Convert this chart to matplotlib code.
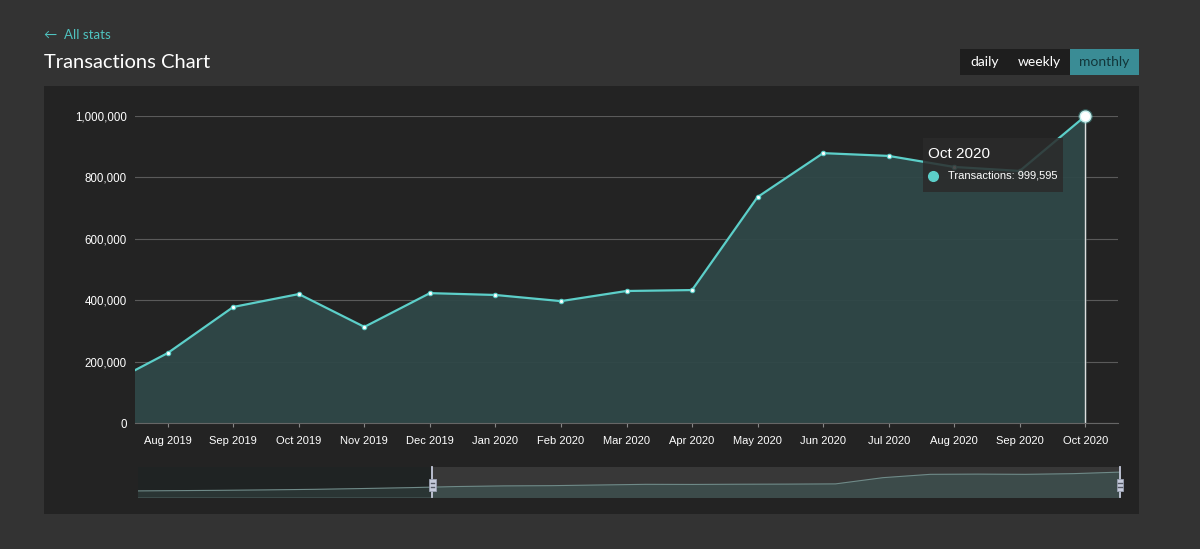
import matplotlib
matplotlib.use("Agg")
import matplotlib.pyplot as plt
from matplotlib.patches import Rectangle
from matplotlib.ticker import FuncFormatter

# monthly transactions, Jul 2019 .. Oct 2020
months = ["Jul 2019", "Aug 2019", "Sep 2019", "Oct 2019", "Nov 2019", "Dec 2019",
          "Jan 2020", "Feb 2020", "Mar 2020", "Apr 2020", "May 2020", "Jun 2020",
          "Jul 2020", "Aug 2020", "Sep 2020", "Oct 2020"]
transactions = [116000, 228000, 378000, 420000, 313000, 423000,
                417000, 397000, 430000, 433000, 736000, 879000,
                870000, 834000, 821000, 999595]

# navigator overview, Dec 2018 .. Oct 2020
nav_values = [90000, 100000, 115000, 130000, 150000, 175000, 210000,
              250000, 300000, 330000, 340000, 370000, 400000, 395000,
              405000, 410000, 420000, 700000, 850000, 860000, 850000, 880000, 950000]
nav_offset = -8  # first navigator month index relative to Aug 2019

W, H = 1200, 549
page_bg = "#333333"
panel_bg = "#232323"
teal = "#5ccfc9"
fill_col = "#2f4747"

fig = plt.figure(figsize=(W / 100, H / 100), dpi=100, facecolor=page_bg)


def px_axes(x0, y0, x1, y1, **kw):
    return fig.add_axes([x0 / W, 1 - y1 / H, (x1 - x0) / W, (y1 - y0) / H], **kw)


# panel background
fig.patches.append(Rectangle((44 / W, 1 - 514 / H), (1139 - 44) / W, (514 - 86) / H,
                             transform=fig.transFigure, facecolor=panel_bg, zorder=-2))

# header
fig.text(44 / W, 1 - 35 / H, "\u2190  All stats", color="#4fc3c0", fontsize=9.5,
         family=["Lato", "DejaVu Sans"], va="center")
fig.text(44 / W, 1 - 63 / H, "Transactions Chart", color="white", fontsize=14.5,
         family="Lato", va="center")

# period buttons
buttons = [("daily", 960, 1009, "#1e1e1e", "white"),
           ("weekly", 1009, 1070, "#1e1e1e", "white"),
           ("monthly", 1070, 1139, "#3a8c95", "#12363a")]
for label, bx0, bx1, bg, fg in buttons:
    fig.patches.append(Rectangle((bx0 / W, 1 - 75 / H), (bx1 - bx0) / W, 26 / H,
                                 transform=fig.transFigure, facecolor=bg, zorder=-1))
    fig.text((bx0 + bx1) / 2 / W, 1 - 62 / H, label, color=fg, fontsize=10,
             family="Lato", ha="center", va="center")

# main chart
ax = px_axes(135, 116, 1118, 423)
ax.set_facecolor("none")
x = list(range(-1, len(months) - 1))  # Aug 2019 = 0
ax.fill_between(x, transactions, color=fill_col, alpha=0.95, zorder=1)
ax.plot(x, transactions, color=teal, lw=1.6, zorder=3)
ax.scatter(x[:-1], transactions[:-1], s=10, color="white", edgecolor=teal,
           linewidth=0.8, zorder=4)
ax.set_xlim(-0.5, 14.5)
ax.set_ylim(0, 1000000)
ax.set_yticks([0, 200000, 400000, 600000, 800000, 1000000])
ax.yaxis.set_major_formatter(FuncFormatter(lambda v, p: f"{int(v):,}"))
ax.set_xticks(x[1:])
ax.set_xticklabels(months[1:])
ax.grid(axis="y", color="#5a5a5a", lw=0.8, zorder=0)
ax.set_axisbelow(True)
for s in ["top", "right", "left"]:
    ax.spines[s].set_visible(False)
ax.spines["bottom"].set_color("#666666")
ax.tick_params(axis="y", length=0, pad=6, labelcolor="white", labelsize=8.3)
ax.tick_params(axis="x", length=3, color="#888888", pad=6, labelcolor="white", labelsize=8)
for t in ax.get_xticklabels() + ax.get_yticklabels():
    t.set_family("Liberation Sans")

# hover line + marker on last point
ax.axvline(x[-1], color="#dddddd", lw=1, zorder=2)
ax.scatter([x[-1]], [transactions[-1]], s=110, color=teal, alpha=0.35,
           linewidth=0, zorder=5, clip_on=False)
ax.scatter([x[-1]], [transactions[-1]], s=60, color="white", edgecolor="#c8f0ee",
           linewidth=1, zorder=6, clip_on=False)

# tooltip
fig.patches.append(Rectangle((923 / W, 1 - 192 / H), 140 / W, 54 / H,
                             transform=fig.transFigure, facecolor="#2b2b2b",
                             alpha=0.85, zorder=6))
fig.text(928 / W, 1 - 154 / H, months[-1], color="white",
         fontsize=11, family="Liberation Sans", va="center", zorder=7)
fig.text(948 / W, 1 - 176 / H, f"Transactions: {transactions[-1]:,}", color="white",
         fontsize=8, family="Liberation Sans", va="center", zorder=7)
fig.lines.append(plt.Line2D([933 / W], [1 - 176 / H], marker="o", ms=7,
                            color=teal, transform=fig.transFigure, zorder=7))

# navigator
nav = px_axes(138, 467, 1120, 497)
nav.set_facecolor("none")
nx = list(range(nav_offset, nav_offset + len(nav_values)))
sel_lo, sel_hi = -0.5, 14
nav_lo = -6.71
nav.set_xlim(nav_lo, sel_hi)
nav.set_ylim(-170000, 1180000)
nav.axvspan(sel_lo, sel_hi, color="#383838", zorder=0)
nav.fill_between(nx, nav_values, -170000, color="#3c4b4a", zorder=1)
nav.axvspan(nav_lo, sel_lo, color="#1c2323", alpha=0.55, lw=0, zorder=1.6)
nav.plot(nx, nav_values, color="#6f8a88", lw=0.8, zorder=2)
nav.axis("off")
for hx in [sel_lo, sel_hi]:
    nav.axvline(hx, color="#c5cadb", lw=1.3, zorder=3, clip_on=False)
    nav.add_patch(Rectangle((hx - 0.07, 80000), 0.14, 560000, facecolor="#c5cadb",
                            edgecolor="#9aa0b2", lw=0.6, zorder=4, clip_on=False))
    for yy in [280000, 440000]:
        nav.plot([hx - 0.035, hx + 0.035], [yy, yy], color="#555a66", lw=1,
                 zorder=5, clip_on=False)

fig.savefig("out.png", dpi=100, facecolor=page_bg)
